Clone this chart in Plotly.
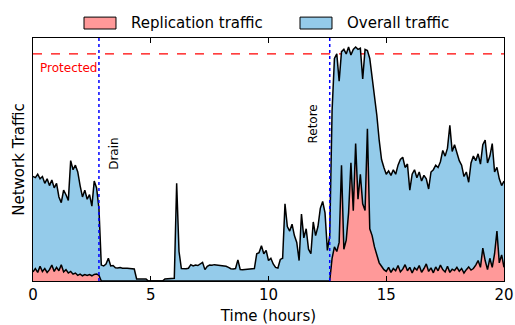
import plotly.graph_objects as go

# Time grid in hours (0.1 h steps)
time_h = [round(i * 0.1, 1) for i in range(201)]

# Overall traffic (percent of protected capacity)
overall = [
    46, 45.5, 47, 45, 46, 43, 45, 42, 44.5, 41,
    43, 37, 34.5, 40, 38, 35.5, 53, 49, 51, 48,
    42, 37, 40, 36, 38, 33, 44, 41, 32, 7,
    6.6, 7.5, 10, 6.6, 6.8, 5.8, 5.7, 5.9, 5.6, 5.7,
    5.6, 5.5, 5.4, 5.3, 0.9, 0.9, 0.9, 0.9, 0.9, 0,
    0, 0, 0, 0, 0, 0, 0.9, 0.9, 0.9, 0.9,
    1.2, 43, 13, 5.5, 5.3, 5.4, 5.6, 7.2, 6.6, 7,
    6.8, 7.4, 8.2, 5, 6.5, 7, 6.9, 7.2, 7.1, 7,
    6.8, 6.6, 6.5, 6, 5.4, 5.3, 5.5, 9.3, 5, 4.9,
    5, 5.1, 5.2, 5.3, 5.5, 12, 12.5, 15.5, 12, 13.5,
    9, 10, 7.5, 6, 5.7, 9.5, 10, 34, 24, 22,
    25, 20, 17, 9, 29.5, 19, 23, 14, 12, 26,
    20, 24, 32, 35, 30, 13.5, 20, 75, 98, 100,
    88, 101, 102, 100, 103, 99.5, 102, 103, 102, 102.5,
    89, 102, 101.5, 98, 90, 80, 73, 62, 53.5, 50,
    47, 48.5, 46.5, 49, 47, 51, 53.5, 54.5, 50, 51.5,
    40, 47, 49, 45.5, 48, 44, 46.5, 45, 40.5, 48,
    49, 51, 50, 52.5, 57.5, 55, 58.5, 68.5, 57, 60,
    56, 53, 51, 46, 48, 43.5, 52, 55, 53, 56,
    51.5, 60, 62, 52, 55, 60.5, 48, 50, 45, 42,
    44,
]

# Replication traffic (percent of protected capacity)
replication = [
    4, 5.5, 3.8, 6.5, 4.2, 5.5, 3.8, 5, 7, 4.2,
    6, 4.5, 7.2, 4, 5, 3.5, 4.2, 3, 3.5, 2.5,
    3, 2.3, 2.8, 2.4, 2.8, 2.3, 2.9, 3.1, 2.5, 0,
    0, 0, 0, 0, 0, 0, 0, 0, 0, 0,
    0, 0, 0, 0, 0, 0, 0, 0, 0, 0,
    0, 0, 0, 0, 0, 0, 0, 0, 0, 0,
    0, 0, 0, 0, 0, 0, 0, 0, 0, 0,
    0, 0, 0, 0, 0, 0, 0, 0, 0, 0,
    0, 0, 0, 0, 0, 0, 0, 0, 0, 0,
    0, 0, 0, 0, 0, 0, 0, 0, 0, 0,
    0, 0, 0, 0, 0, 0, 0, 0, 0, 0,
    0, 0, 0, 0, 0, 0, 0, 0, 0, 0,
    0, 0, 0, 0, 0, 0, 0, 10, 15, 13,
    17, 51, 14, 18, 30, 52, 31, 60.5, 36, 47,
    34, 31, 67, 23, 20, 15, 11, 8, 6.5, 5,
    4.2, 6, 3.8, 5.5, 4.5, 6.8, 4, 5.2, 7.2, 4.5,
    6, 3.5, 5.8, 4.8, 6.8, 3.8, 5.5, 7.5, 4.2, 5.8,
    3.6, 6.2, 4.5, 7, 5, 4, 6.5, 3.8, 5.2, 4.6,
    6, 4.3, 5.5, 3.5, 5, 6.2, 4.8, 5.5, 7, 9,
    6, 14.5, 9, 5, 10, 6, 12, 22, 8, 11.5,
    6,
]

series_names = ["Replication traffic", "Overall traffic"]
series_colors = ["#FF9999", "#94CBEA"]

protected_level = 100
drain_time = 2.8
restore_time = 12.6
x_ticks = [0, 5, 10, 15, 20]

FONT = "DejaVu Sans"

fig = go.Figure()
fig.add_trace(go.Scatter(
    x=time_h, y=overall, name=series_names[1], mode="lines",
    fill="tozeroy", fillcolor=series_colors[1],
    line=dict(color="black", width=1.5), showlegend=False,
))
fig.add_trace(go.Scatter(
    x=time_h, y=replication, name=series_names[0], mode="lines",
    fill="tozeroy", fillcolor=series_colors[0],
    line=dict(color="black", width=1.5), showlegend=False,
))

fig.add_shape(type="line", xref="x", yref="y", x0=0, x1=20,
              y0=protected_level, y1=protected_level, layer="below",
              line=dict(color="red", width=1.3, dash="dash"))
for t in (drain_time, restore_time):
    fig.add_shape(type="line", xref="x", yref="y", x0=t, x1=t, y0=0, y1=107,
                  line=dict(color="blue", width=1.5, dash="dot"))

# Legend drawn above the plot (swatch boxes + labels)
legend_boxes = [(0.1083, 0.1762, 0.2038), (0.5669, 0.6348, 0.6624)]
for (bx0, bx1, tx), name, col in zip(legend_boxes, series_names, series_colors):
    fig.add_shape(type="rect", xref="paper", yref="paper",
                  x0=bx0, x1=bx1, y0=1.037, y1=1.086,
                  fillcolor=col, line=dict(color="black", width=1))
    fig.add_annotation(x=tx, y=1.062, xref="paper", yref="paper", text=name,
                       showarrow=False, xanchor="left", yanchor="middle",
                       font=dict(family=FONT, size=15, color="black"))

fig.add_annotation(x=0.2, y=94, xref="x", yref="y", text="Protected",
                   showarrow=False, xanchor="left", yanchor="middle",
                   font=dict(family=FONT, size=12, color="red"))
fig.add_annotation(x=3.44, y=56, xref="x", yref="y", text="Drain",
                   showarrow=False, textangle=-90,
                   font=dict(family=FONT, size=12, color="black"))
fig.add_annotation(x=11.9, y=69, xref="x", yref="y", text="Retore",
                   showarrow=False, textangle=-90,
                   font=dict(family=FONT, size=12, color="black"))

fig.update_layout(
    width=515, height=325,
    margin=dict(l=33, r=11, t=38, b=44, autoexpand=False),
    paper_bgcolor="white", plot_bgcolor="white",
    font=dict(family=FONT, size=15, color="black"),
    showlegend=False,
    xaxis=dict(range=[0, 20], tickvals=x_ticks, ticks="inside", ticklen=5,
               tickcolor="black", showline=True, linecolor="black",
               linewidth=1.2, mirror="ticks", showgrid=False, zeroline=False,
               automargin=False, tickfont=dict(size=15),
               title=dict(text="Time (hours)", font=dict(size=15), standoff=7)),
    yaxis=dict(range=[0, 107], showticklabels=False, ticks="",
               showline=True, linecolor="black", linewidth=1.2, mirror=True,
               showgrid=False, zeroline=False, automargin=False,
               title=dict(text="Network Traffic", font=dict(size=15), standoff=3)),
)

fig.write_html(
    "out.html",
    config={"displayModeBar": False},
    post_script="document.body.style.margin='0';document.body.style.overflow='hidden';",
)
